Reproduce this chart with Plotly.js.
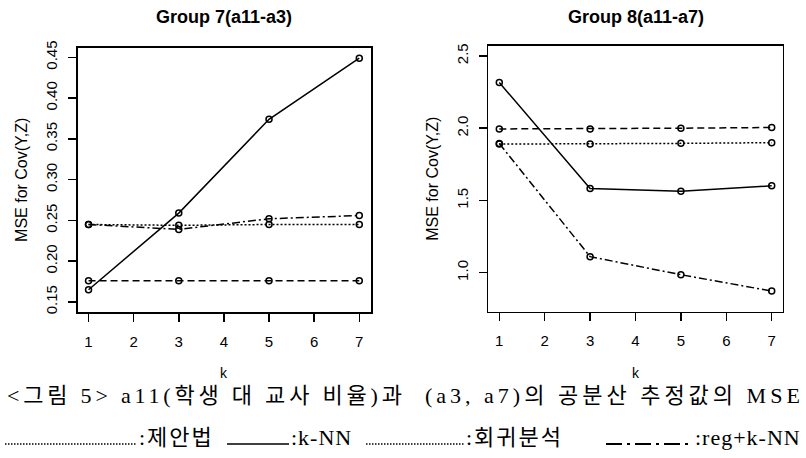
<!DOCTYPE html>
<html>
<head>
<meta charset="utf-8">
<script src="https://cdn.plot.ly/plotly-3.0.1.min.js"></script>
<style>html,body{margin:0;padding:0;background:#fff;}</style>
</head>
<body>
<div id="chart" style="width:806px;height:458px;"></div>
<script>
// ---- data ----
const kValues = [1, 3, 5, 7];
const xTickVals = [1, 2, 3, 4, 5, 6, 7];
const panelTitles = ['Group 7(a11-a3)', 'Group 8(a11-a7)'];
const yTitle = 'MSE for Cov(Y,Z)';
const xTitle = 'k';
const seriesNames = ['제안법', 'k-NN', '회귀분석', 'reg+k-NN'];

const g7Proposed = [0.245, 0.244, 0.245, 0.245];
const g7KNN      = [0.165, 0.259, 0.374, 0.449];
const g7Reg      = [0.176, 0.176, 0.176, 0.176];
const g7RegKNN   = [0.245, 0.239, 0.252, 0.256];

const g8Proposed = [1.890, 1.890, 1.895, 1.900];
const g8KNN      = [2.316, 1.583, 1.564, 1.601];
const g8Reg      = [1.995, 1.995, 2.000, 2.005];
const g8RegKNN   = [1.894, 1.111, 0.986, 0.873];

const g7YTicks = [0.15, 0.20, 0.25, 0.30, 0.35, 0.40, 0.45];
const g8YTicks = [1.0, 1.5, 2.0, 2.5];

const captionLeft = '<그림 5> a11(학생 대 교사 비율)과';
const captionRight = '(a3, a7)의 공분산 추정값의 MSE';

// ---- styles ----
const dashStyles = ['2px,2px', 'solid', '7px,4px', '8px,3px,2px,3px'];
const W = 806, H = 458;
const px = v => v / W;
const py = v => 1 - v / H;

function makeTraces(vals, xa, ya) {
  return vals.map((v, i) => ({
    type: 'scatter', mode: 'lines+markers',
    x: kValues, y: v, xaxis: xa, yaxis: ya,
    name: seriesNames[i], showlegend: false,
    line: {color: '#000', width: 1.5, dash: dashStyles[i]},
    marker: {symbol: 'circle-open', size: 6, color: '#000', line: {width: 1.5, color: '#000'}}
  }));
}

const traces = [
  ...makeTraces([g7Proposed, g7KNN, g7Reg, g7RegKNN], 'x', 'y'),
  ...makeTraces([g8Proposed, g8KNN, g8Reg, g8RegKNN], 'x2', 'y2')
];

const baseFont = {family: 'Liberation Sans, Arial, sans-serif', color: '#000'};

function xAxis(domain, range, anchor) {
  return {
    domain: domain, range: range, anchor: anchor,
    tickvals: xTickVals, ticktext: xTickVals.map(String),
    ticks: 'outside', ticklen: 8, tickwidth: 1.5, tickcolor: '#000',
    showline: true, linecolor: '#000', linewidth: 1.5, mirror: true,
    showgrid: false, zeroline: false, fixedrange: true,
    tickfont: Object.assign({size: 15}, baseFont),
    ticklabelstandoff: 7
  };
}
function yAxis(domain, range, anchor, ticks, fmt) {
  return {
    domain: domain, range: range, anchor: anchor,
    tickvals: ticks, tickformat: fmt, tickangle: -90,
    ticks: 'outside', ticklen: 8, tickwidth: 1.5, tickcolor: '#000',
    showline: true, linecolor: '#000', linewidth: 1.5, mirror: true,
    showgrid: false, zeroline: false, fixedrange: true,
    tickfont: Object.assign({size: 15}, baseFont),
    ticklabelstandoff: 5,
    title: {text: yTitle, font: Object.assign({size: 16}, baseFont), standoff: 11}
  };
}

const capFont = {family: 'Liberation Serif, Noto Sans CJK KR, serif', size: 22, color: '#000'};
const spaced = (t, s) => '<span style="letter-spacing:' + s + 'px">' + t + '</span>';
const paperNote = (text, x, y, xanchor, font) => ({
  text: text, x: px(x), y: py(y), xref: 'paper', yref: 'paper', showarrow: false,
  xanchor: xanchor, yanchor: 'middle', font: font
});

const annotations = [
  paperNote('<b>' + panelTitles[0] + '</b>', 224, 17, 'center', Object.assign({size: 18}, baseFont)),
  paperNote('<b>' + panelTitles[1] + '</b>', 636, 17, 'center', Object.assign({size: 18}, baseFont)),
  paperNote(xTitle, 224, 373, 'center', Object.assign({size: 14}, baseFont)),
  paperNote(xTitle, 636, 373, 'center', Object.assign({size: 14}, baseFont)),
  paperNote(spaced(captionLeft, 3.8), 5, 395, 'left', capFont),
  paperNote(spaced(captionRight, 4.0), 423, 395, 'left', capFont),
  paperNote(spaced(':' + seriesNames[0], 2), 137, 437, 'left', capFont),
  paperNote(spaced(':' + seriesNames[1], 1), 289, 437, 'left', capFont),
  paperNote(spaced(':' + seriesNames[2], 2), 464, 437, 'left', capFont),
  paperNote(spaced(':' + seriesNames[3], 1), 693, 437, 'left', capFont)
];

const legendSamples = [[5, 137, '1.5px,1.5px', 1.3], [227, 289, 'solid', 1.5], [366, 464, '1.5px,1.5px', 1.3], [606, 693, '16px,5px,3px,5px', 2]];
const shapes = legendSamples.map(s => ({
  type: 'line', xref: 'paper', yref: 'paper',
  x0: px(s[0]), x1: px(s[1]), y0: py(444), y1: py(444),
  line: {color: '#000', width: s[3], dash: s[2]}
}));

const layout = {
  width: W, height: H,
  margin: {l: 0, r: 0, t: 0, b: 0},
  paper_bgcolor: '#fff', plot_bgcolor: '#fff',
  showlegend: false,
  font: baseFont,
  xaxis: xAxis([px(77.7), px(371)], [0.76, 7.26], 'y'),
  yaxis: yAxis([py(312), py(47.7)], [0.1377, 0.4618], 'x', g7YTicks, '.2f'),
  xaxis2: xAxis([px(488.3), px(782.7)], [0.758, 7.242], 'y2'),
  yaxis2: yAxis([py(311.7), py(45.7)], [0.730, 2.571], 'x2', g8YTicks, '.1f'),
  annotations: annotations,
  shapes: shapes
};

Plotly.newPlot('chart', traces, layout, {displayModeBar: false, staticPlot: true});
</script>
</body>
</html>
